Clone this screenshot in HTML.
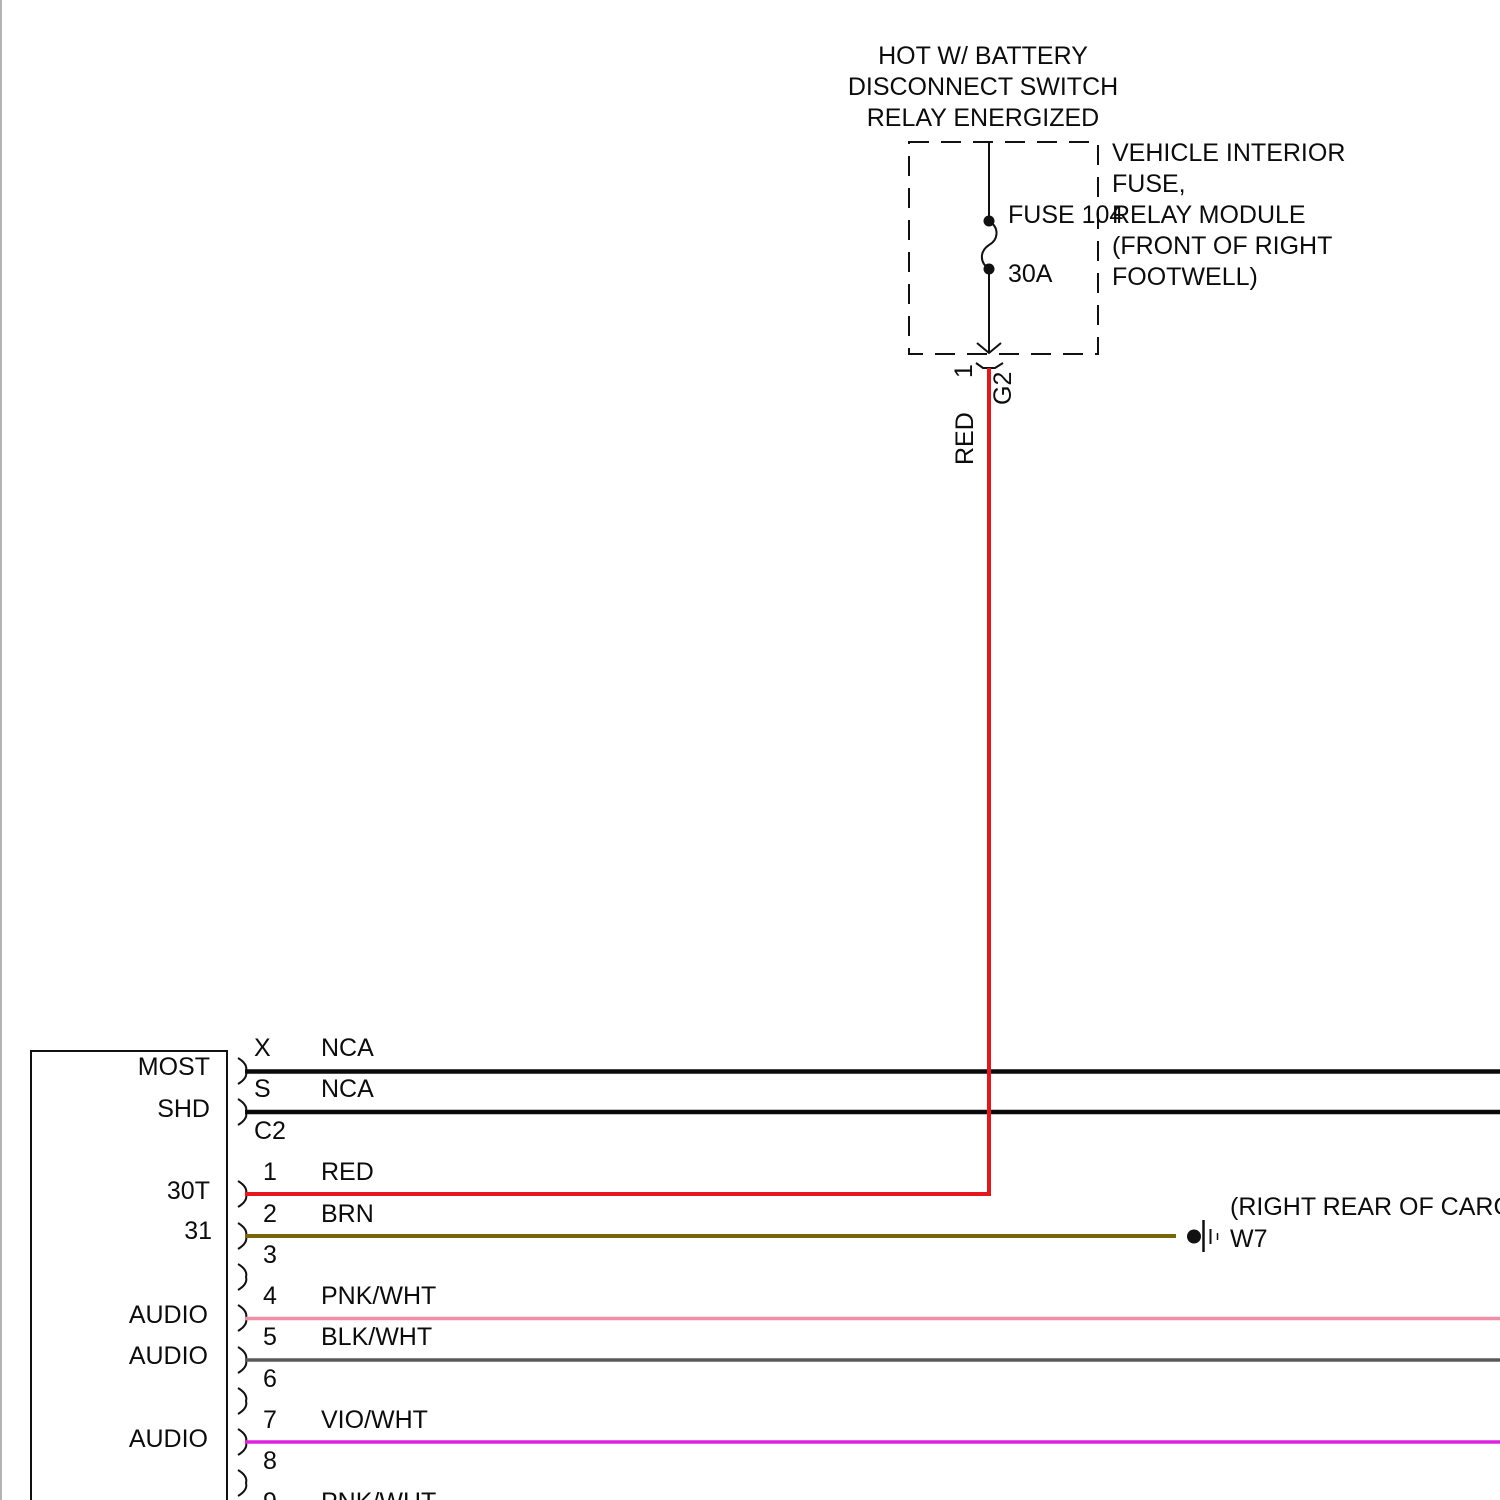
<!DOCTYPE html>
<html>
<head>
<meta charset="utf-8">
<style>
html,body{margin:0;padding:0;background:#fff;}
svg{display:block;}
text{font-family:"Liberation Sans",Arial,sans-serif;font-size:25px;fill:#0c0c0c;}
</style>
</head>
<body>
<svg width="1500" height="1500" viewBox="0 0 1500 1500" xmlns="http://www.w3.org/2000/svg">
<rect x="0" y="0" width="1500" height="1500" fill="#fff"/>
<!-- left gray edge -->
<line x1="1" y1="0" x2="1" y2="1500" stroke="#b4b4b4" stroke-width="2"/>

<!-- top labels -->
<text x="983" y="64" text-anchor="middle">HOT W/ BATTERY</text>
<text x="983" y="95" text-anchor="middle">DISCONNECT SWITCH</text>
<text x="983" y="126" text-anchor="middle">RELAY ENERGIZED</text>

<text x="1112" y="161">VEHICLE INTERIOR</text>
<text x="1112" y="192">FUSE,</text>
<text x="1112" y="223">RELAY MODULE</text>
<text x="1112" y="254">(FRONT OF RIGHT</text>
<text x="1112" y="285">FOOTWELL)</text>

<!-- dashed box -->
<rect x="909" y="142" width="189" height="212" fill="none" stroke="#111" stroke-width="2" stroke-dasharray="20 12"/>

<!-- fuse line -->
<line x1="989" y1="142" x2="989" y2="221" stroke="#111" stroke-width="2"/>
<path d="M989,221 C1000,228 998,240 989,245 C980,251 979,262 989,269" fill="none" stroke="#111" stroke-width="2"/>
<line x1="989" y1="269" x2="989" y2="353" stroke="#111" stroke-width="2"/>
<circle cx="989" cy="221" r="5.5" fill="#111"/>
<circle cx="989" cy="269" r="5.5" fill="#111"/>
<polyline points="977,343 989,353 1001,343" fill="none" stroke="#111" stroke-width="2"/>
<text x="1008" y="223">FUSE 104</text>
<text x="1008" y="282">30A</text>

<!-- connector G2 -->
<polyline points="976,363 983,368 995,368 1003,363" fill="none" stroke="#111" stroke-width="2"/>
<text transform="translate(972,378) rotate(-90)">1</text>
<text transform="translate(973,465) rotate(-90)">RED</text>
<text transform="translate(1011,405) rotate(-90)">G2</text>

<!-- module box -->
<polyline points="31,1500 31,1051 227,1051 227,1500" fill="none" stroke="#111" stroke-width="2"/>
<text x="210" y="1075" text-anchor="end">MOST</text>
<text x="210" y="1117" text-anchor="end">SHD</text>
<text x="210" y="1199" text-anchor="end">30T</text>
<text x="212" y="1239" text-anchor="end">31</text>
<text x="208" y="1323" text-anchor="end">AUDIO</text>
<text x="208" y="1364" text-anchor="end">AUDIO</text>
<text x="208" y="1447" text-anchor="end">AUDIO</text>

<!-- brackets -->
<g fill="none" stroke="#111" stroke-width="2">
<path d="M238,1058 Q248,1064 246,1071 Q248,1078 238,1084"/>
<path d="M238,1099 Q248,1105 246,1112 Q248,1119 238,1125"/>
<path d="M238,1181 Q248,1187 246,1194 Q248,1201 238,1207"/>
<path d="M238,1223 Q248,1229 246,1236 Q248,1243 238,1249"/>
<path d="M238,1264 Q248,1270 246,1277 Q248,1284 238,1290"/>
<path d="M238,1305 Q248,1311 246,1318 Q248,1325 238,1331"/>
<path d="M238,1347 Q248,1353 246,1360 Q248,1367 238,1373"/>
<path d="M238,1388 Q248,1394 246,1401 Q248,1408 238,1414"/>
<path d="M238,1429 Q248,1435 246,1442 Q248,1449 238,1455"/>
<path d="M238,1470 Q248,1476 246,1483 Q248,1490 238,1496"/>
</g>

<!-- pin labels -->
<text x="254" y="1056">X</text>
<text x="321" y="1056">NCA</text>
<text x="254" y="1097">S</text>
<text x="321" y="1097">NCA</text>
<text x="254" y="1139">C2</text>
<text x="263" y="1180">1</text>
<text x="321" y="1180">RED</text>
<text x="263" y="1222">2</text>
<text x="321" y="1222">BRN</text>
<text x="263" y="1263">3</text>
<text x="263" y="1304">4</text>
<text x="321" y="1304">PNK/WHT</text>
<text x="263" y="1345">5</text>
<text x="321" y="1345">BLK/WHT</text>
<text x="263" y="1387">6</text>
<text x="263" y="1428">7</text>
<text x="321" y="1428">VIO/WHT</text>
<text x="263" y="1469">8</text>
<text x="263" y="1510">9</text>
<text x="321" y="1510">PNK/WHT</text>

<!-- wires -->
<line x1="245" y1="1071.5" x2="1500" y2="1071.5" stroke="#0a0a0a" stroke-width="4.5"/>
<line x1="245" y1="1112" x2="1500" y2="1112" stroke="#0a0a0a" stroke-width="4.5"/>
<line x1="245" y1="1236" x2="1176" y2="1236" stroke="#776508" stroke-width="4"/>
<line x1="245" y1="1318.5" x2="1500" y2="1318.5" stroke="#ef8fa3" stroke-width="3.5"/>
<line x1="245" y1="1360" x2="1500" y2="1360" stroke="#5a5a5a" stroke-width="3.5"/>
<line x1="245" y1="1442" x2="1500" y2="1442" stroke="#df22df" stroke-width="3.5"/>
<!-- red wire -->
<polyline points="245,1194 989,1194 989,368" fill="none" stroke="#e5171c" stroke-width="4"/>

<!-- ground -->
<circle cx="1194" cy="1236.5" r="7" fill="#111"/>
<line x1="1203.5" y1="1220" x2="1203.5" y2="1252" stroke="#111" stroke-width="2.5"/>
<line x1="1210.5" y1="1229" x2="1210.5" y2="1244" stroke="#111" stroke-width="2"/>
<line x1="1217.5" y1="1233" x2="1217.5" y2="1240" stroke="#111" stroke-width="1.5"/>
<text x="1230" y="1215">(RIGHT REAR OF CARGO</text>
<text x="1230" y="1247">W7</text>
</svg>
</body>
</html>
